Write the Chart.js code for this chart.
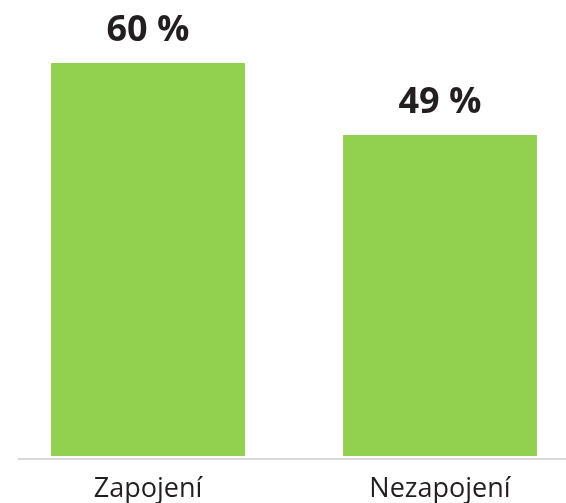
<!DOCTYPE html>
<html>
<head>
<meta charset="utf-8">
<title>Zapojení</title>
<script src="https://cdn.jsdelivr.net/npm/chart.js@4/dist/chart.umd.min.js"></script>
<style>
    html, body { margin: 0; padding: 0; background: #fff; overflow: hidden; }
    #wrap { width: 566px; height: 503px; overflow: hidden; }
</style>
</head>
<body>
<div id="wrap"><canvas id="chart" width="600" height="523"></canvas></div>
<script>
// Chart data
const categories = ['Zapojení', 'Nezapojení'];
const values = [60, 49];
const valueLabels = ['60 %', '49 %'];

const barGreen = '#92d050';
const textDark = '#231f20';

// Value labels above the bars + light baseline
const barLabels = {
    id: 'barLabels',
    afterDatasetsDraw(chart) {
        const ctx = chart.ctx;
        const meta = chart.getDatasetMeta(0);
        ctx.save();
        ctx.fillStyle = textDark;
        ctx.font = 'bold 36px "Open Sans"';
        ctx.textAlign = 'center';
        ctx.textBaseline = 'alphabetic';
        meta.data.forEach((bar, i) => {
            ctx.fillText(valueLabels[i], bar.x, bar.y - 22);
        });
        // axis line
        ctx.fillStyle = '#d9d9d9';
        ctx.fillRect(18, chart.chartArea.bottom + 2, chart.width - 18, 2);
        ctx.restore();
    }
};

const ctx = document.getElementById('chart').getContext('2d');
new Chart(ctx, {
    type: 'bar',
    data: {
        labels: categories,
        datasets: [{
            data: values,
            backgroundColor: barGreen,
            borderWidth: 0,
            categoryPercentage: 1,
            barPercentage: 0.664
        }]
    },
    options: {
        responsive: false,
        animation: false,
        devicePixelRatio: 1,
        layout: {
            padding: { top: 63, left: 2, right: 14, bottom: 0 }
        },
        plugins: {
            legend: { display: false },
            tooltip: { enabled: false }
        },
        scales: {
            x: {
                grid: { display: false, drawTicks: false },
                border: { display: false },
                ticks: {
                    color: textDark,
                    padding: 20,
                    font: { family: 'Open Sans', size: 27, lineHeight: 1 }
                }
            },
            y: {
                display: false,
                min: 0,
                max: 60
            }
        }
    },
    plugins: [barLabels]
});
</script>
</body>
</html>
